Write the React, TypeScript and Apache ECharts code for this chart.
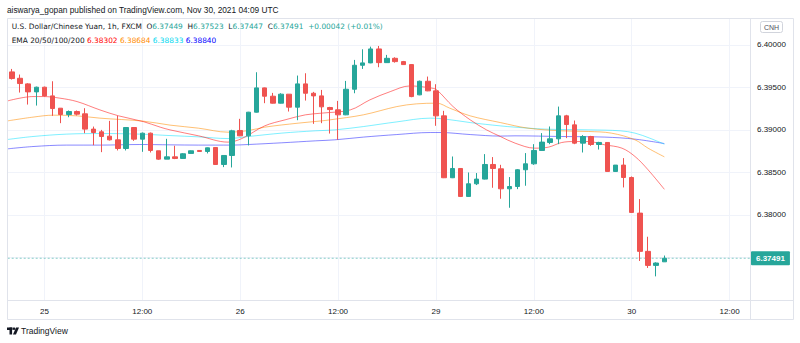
import React, { useEffect, useRef } from 'react';
import * as echarts from 'echarts';

// Hour categories (Nov 24 20:00 ... Nov 30 14:00)
const dayRanges: [string, number, number][] = [
  ['24', 20, 23],
  ['25', 0, 23],
  ['26', 0, 23],
  ['29', 0, 23],
  ['30', 0, 14],
];
const categories: string[] = [];
dayRanges.forEach(([d, a, b]) => {
  for (let h = a; h <= b; h++) categories.push(`${d} ${String(h).padStart(2, '0')}:00`);
});

const opens = [
  6.39683, 6.39608, 6.39542, 6.39448, 6.39503, 6.39401, 6.39256, 6.39182, 6.39217, 6.3919,
  6.3901, 6.38978, 6.38927, 6.38884, 6.38782, 6.39029, 6.38892, 6.38962, 6.38755, 6.38657,
  6.38684, 6.38665, 6.38724, 6.38759, 6.38747, 6.38794, 6.38594, 6.387, 6.38994, 6.38931,
  6.39209, 6.39495, 6.39397, 6.39315, 6.39421, 6.39268, 6.39542, 6.39432, 6.39401, 6.39264,
  6.39237, 6.39178, 6.39479, 6.39761, 6.39789, 6.39953, 6.39792, 6.39843, 6.39804, 6.39769,
  6.39413, 6.39573, 6.3946, 6.39166, 6.38438, 6.38547, 6.38218, 6.38367, 6.38422, 6.38594,
  6.38543, 6.38308, 6.38335, 6.38532, 6.38602, 6.38759, 6.38853, 6.38896, 6.39166, 6.3906,
  6.38845, 6.38923, 6.38829, 6.38853, 6.38512, 6.38587, 6.38441, 6.38022, 6.37572, 6.37407, 6.37449,
];
const highs = [
  6.39718, 6.39652, 6.3955, 6.3951, 6.3951, 6.39573, 6.39256, 6.39229, 6.39229, 6.39256,
  6.3904, 6.39001, 6.39107, 6.39166, 6.39033, 6.39033, 6.3897, 6.3897, 6.38755, 6.38896,
  6.38814, 6.38727, 6.38759, 6.38763, 6.38794, 6.38794, 6.387, 6.39002, 6.39131, 6.39213,
  6.39679, 6.39499, 6.39436, 6.39432, 6.39421, 6.3964, 6.39667, 6.39448, 6.39471, 6.39272,
  6.39342, 6.39577, 6.39824, 6.39949, 6.3998, 6.39988, 6.39883, 6.39855, 6.39812, 6.39773,
  6.39581, 6.39628, 6.39538, 6.39225, 6.38688, 6.38551, 6.385, 6.38493, 6.38716, 6.38681,
  6.3859, 6.38446, 6.3854, 6.38728, 6.38833, 6.38963, 6.39041, 6.39275, 6.39178, 6.39111,
  6.38939, 6.38931, 6.38861, 6.38853, 6.38587, 6.38669, 6.38453, 6.38187, 6.37744, 6.37443, 6.37523,
];
const lows = [
  6.39593, 6.3944, 6.39299, 6.39287, 6.39393, 6.39166, 6.3908, 6.3915, 6.3917, 6.38962,
  6.38821, 6.38739, 6.38876, 6.38759, 6.38759, 6.38872, 6.38743, 6.38735, 6.38649, 6.38657,
  6.38657, 6.38661, 6.3872, 6.38743, 6.38724, 6.3859, 6.38563, 6.38559, 6.38927, 6.38818,
  6.39205, 6.39315, 6.39311, 6.39311, 6.39217, 6.39115, 6.39346, 6.39072, 6.3908, 6.38958,
  6.38884, 6.39174, 6.39432, 6.39718, 6.39785, 6.39738, 6.39789, 6.39792, 6.39765, 6.39385,
  6.39409, 6.39456, 6.39049, 6.38434, 6.38434, 6.38211, 6.38214, 6.38352, 6.38418, 6.3832,
  6.38191, 6.38085, 6.38304, 6.38344, 6.3859, 6.38755, 6.38833, 6.38833, 6.38904, 6.38833,
  6.38735, 6.38813, 6.3877, 6.38512, 6.38508, 6.38324, 6.38026, 6.37459, 6.37377, 6.37278, 6.37447,
];
const closes = [
  6.39605, 6.39546, 6.39448, 6.39503, 6.39401, 6.39252, 6.39182, 6.39217, 6.39186, 6.3901,
  6.3897, 6.38923, 6.38884, 6.38782, 6.39029, 6.38892, 6.38962, 6.38759, 6.38657, 6.38684,
  6.38665, 6.3872, 6.38755, 6.38747, 6.3879, 6.38594, 6.387, 6.3899, 6.38931, 6.39209,
  6.39495, 6.39397, 6.39315, 6.39421, 6.39268, 6.39542, 6.39432, 6.39401, 6.39272, 6.3924,
  6.39178, 6.39479, 6.39761, 6.39789, 6.39953, 6.39792, 6.39843, 6.39804, 6.39769, 6.39393,
  6.39573, 6.3946, 6.39166, 6.38438, 6.38547, 6.38218, 6.38367, 6.38422, 6.38594, 6.38547,
  6.38308, 6.38335, 6.38532, 6.38602, 6.38759, 6.38857, 6.38896, 6.39166, 6.39064, 6.38845,
  6.38923, 6.38829, 6.38853, 6.38512, 6.38587, 6.38441, 6.3803, 6.37572, 6.37407, 6.37435, 6.37491,
];

// EMA lines: [bar position, value]
const ema20: [number, number][] = [
  [-0.5, 6.39342], [2.6, 6.39393], [3.9, 6.39393], [5.9, 6.39374], [8.0, 6.39334], [10.8, 6.39236],
  [13.1, 6.39166], [16.1, 6.39099], [18.2, 6.39033], [19.4, 6.39001], [22.9, 6.38931], [26.5, 6.38857],
  [28.2, 6.38899], [31.0, 6.39048], [33.5, 6.39119], [36.0, 6.39178], [38.0, 6.39198], [41.5, 6.39236],
  [43.9, 6.39354], [46.4, 6.39451], [48.8, 6.39518], [51.3, 6.39495], [52.1, 6.39471], [54.1, 6.39275],
  [56.2, 6.39119], [58.2, 6.39001], [59.9, 6.38923], [61.7, 6.38845], [64.1, 6.38786], [65.8, 6.38798],
  [67.4, 6.38852], [69.0, 6.38864], [70.7, 6.38864], [72.7, 6.38825], [74.8, 6.38786], [76.4, 6.38688],
  [78.0, 6.38532], [80.0, 6.38302],
];
const ema50: [number, number][] = [
  [-0.5, 6.39107], [2.6, 6.39151], [5.1, 6.39174], [8.0, 6.39166], [10.8, 6.39139], [16.1, 6.39104],
  [19.4, 6.39057], [22.9, 6.39021], [26.5, 6.38974], [29.0, 6.38993], [31.0, 6.39033], [35.1, 6.3908],
  [38.0, 6.39107], [39.0, 6.39119], [43.1, 6.39178], [47.2, 6.39275], [49.6, 6.39307], [52.1, 6.39315],
  [53.7, 6.39256], [56.2, 6.39166], [59.9, 6.39087], [63.3, 6.39021], [67.4, 6.3899], [70.7, 6.38982],
  [73.5, 6.38963], [76.4, 6.38884], [78.0, 6.38786], [80.0, 6.38684],
];
const ema100: [number, number][] = [
  [-0.5, 6.38888], [2.6, 6.38923], [6.7, 6.38951], [10.8, 6.38958], [15.7, 6.38951], [19.4, 6.38934],
  [22.9, 6.38919], [26.5, 6.38899], [29.0, 6.38923], [33.1, 6.38963], [37.2, 6.3899], [39.6, 6.39001],
  [43.1, 6.3904], [47.2, 6.39095], [51.3, 6.39139], [52.9, 6.39131], [56.2, 6.39087], [59.9, 6.39048],
  [61.7, 6.39033], [65.4, 6.3901], [70.9, 6.39001], [74.6, 6.3899], [76.4, 6.38963], [78.2, 6.38904],
  [80.0, 6.38833],
];
const ema200: [number, number][] = [
  [-0.5, 6.38778], [2.6, 6.38805], [6.7, 6.38822], [10.8, 6.38822], [15.7, 6.38829], [19.4, 6.38825],
  [22.9, 6.38822], [27.0, 6.38822], [29.0, 6.38829], [33.1, 6.38849], [37.2, 6.38872], [39.6, 6.38884],
  [43.1, 6.38916], [47.2, 6.38946], [51.3, 6.3897], [52.5, 6.3897], [56.2, 6.38946], [59.9, 6.38928],
  [61.7, 6.38931], [67.4, 6.38923], [72.7, 6.38916], [76.4, 6.38892], [80.0, 6.3884],
];

const lastPrice = 6.37491;
const FONT = 'Liberation Sans, Arial, sans-serif';
const LFONT = 'DejaVu Sans, Verdana, sans-serif';
const TXT = '#131722';
const UP = '#26a69a';
const DOWN = '#ef5350';

export default function App() {
  const ref = useRef<HTMLDivElement>(null);
  useEffect(() => {
    if (!ref.current) return;
    const chart = echarts.init(ref.current, undefined, { renderer: 'svg' });
    const candleData = opens.map((o, i) => [o, closes[i], lows[i], highs[i]]);
    const isMajor = (_i: number, v: string) => v.endsWith(' 00:00') || v.endsWith(' 12:00');
    const lineSeries = (name: string, data: [number, number][], color: string) => ({
      name,
      type: 'line',
      xAxisIndex: 1,
      data,
      showSymbol: false,
      smooth: 0.35,
      silent: true,
      lineStyle: { width: 1, color },
      z: 3,
    });
    const text = (x: number, y: number, t: string, fill: string, size = 8) => ({
      type: 'text',
      x,
      y,
      style: { text: t, fill, font: `${size}px ${FONT}`, verticalAlign: 'middle' },
      z: 100,
    });
    const LS = 7.4;
    const rs = (fill: string) => ({ fill, fontSize: LS, fontFamily: LFONT });
    const richLine = (x: number, y: number, t: string) => ({
      type: 'text',
      x,
      y,
      style: {
        text: t,
        fontSize: LS,
        fontFamily: LFONT,
        verticalAlign: 'middle',
        rich: { d: rs(TXT), g: rs(UP), r: rs('#ff0000'), o: rs('#ff8c00'), c: rs('#00d8f0'), b: rs('#0000ff') },
      },
      z: 100,
    });
    chart.setOption({
      animation: false,
      backgroundColor: '#ffffff',
      grid: { left: 7.7, right: 50, top: 18, bottom: 43, containLabel: false },
      xAxis: [
        {
          type: 'category',
          data: categories,
          boundaryGap: true,
          axisLine: { show: false },
          axisTick: { show: false },
          axisLabel: {
            interval: isMajor,
            formatter: (v: string) => (v.endsWith(' 00:00') ? v.split(' ')[0] : '12:00'),
            color: TXT,
            fontSize: 8,
            fontFamily: FONT,
            margin: 7,
          },
          splitLine: { show: true, interval: isMajor, alignWithLabel: true, lineStyle: { color: '#f0f3fa', width: 1 } },
        },
        { type: 'value', min: -0.5, max: categories.length - 0.5, show: false },
      ],
      yAxis: {
        type: 'value',
        position: 'right',
        min: 6.37,
        max: 6.40317,
        interval: 0.005,
        axisLine: { show: false },
        axisTick: { show: false },
        axisLabel: {
          formatter: (v: number) => v.toFixed(5),
          showMinLabel: false,
          showMaxLabel: false,
          color: TXT,
          fontSize: 8,
          fontFamily: FONT,
          margin: 7,
        },
        splitLine: { lineStyle: { color: '#f0f3fa', width: 1 } },
      },
      series: [
        {
          name: 'Last',
          type: 'line',
          xAxisIndex: 1,
          data: [[-0.5, lastPrice], [categories.length - 0.5, lastPrice]],
          showSymbol: false,
          silent: true,
          z: 2,
          lineStyle: { color: 'rgba(38,166,154,0.55)', type: [2, 2], width: 1 },
          endLabel: {
            show: true,
            distance: 1,
            formatter: () => lastPrice.toFixed(5),
            backgroundColor: UP,
            color: '#ffffff',
            fontSize: 8,
            fontFamily: FONT,
            fontWeight: 'bold',
            padding: [3, 5, 3, 5],
            borderRadius: 1,
          },
        },
        lineSeries('EMA200', ema200, 'rgba(40,40,255,0.55)'),
        lineSeries('EMA100', ema100, 'rgba(0,225,255,0.5)'),
        lineSeries('EMA50', ema50, 'rgba(255,140,0,0.55)'),
        lineSeries('EMA20', ema20, 'rgba(255,20,20,0.55)'),
        {
          type: 'candlestick',
          data: candleData,
          barWidth: 5,
          z: 4,
          itemStyle: { color: UP, color0: DOWN, borderColor: UP, borderColor0: DOWN, borderWidth: 1 },
        },
      ],
      graphic: [
        { type: 'rect', shape: { x: 7.5, y: 18.5, width: 786, height: 301 }, style: { fill: 'none', stroke: '#e0e3eb', lineWidth: 1 }, z: 90, silent: true },
        { type: 'line', shape: { x1: 750.5, y1: 18.5, x2: 750.5, y2: 319.5 }, style: { stroke: '#e0e3eb', lineWidth: 1 }, z: 90 },
        { type: 'line', shape: { x1: 7.5, y1: 300.5, x2: 793.5, y2: 300.5 }, style: { stroke: '#e0e3eb', lineWidth: 1 }, z: 90 },
        text(7, 10, 'aiswarya_gopan published on TradingView.com, Nov 30, 2021 04:09 UTC', TXT, 8.3),
        richLine(11.7, 26.7,
          '{d|U.S. Dollar/Chinese Yuan, 1h, FXCM  O}{g|6.37449}  {d|H}{g|6.37523}  {d|L}{g|6.37447}  {d|C}{g|6.37491}  {g|+0.00042 (+0.01%)}'),
        richLine(11.7, 40, '{d|EMA 20/50/100/200} {r|6.38302} {o|6.38684} {c|6.38833} {b|6.38840}'),
        { type: 'rect', shape: { x: 760.5, y: 21.5, width: 22, height: 11, r: 2 }, style: { fill: '#ffffff', stroke: '#d1d4dc', lineWidth: 1 }, z: 95 },
        { type: 'text', x: 771.5, y: 27.2, style: { text: 'CNH', fill: '#50535e', font: `7px ${FONT}`, align: 'center', verticalAlign: 'middle' }, z: 100 },
        // TradingView logo
        { type: 'rect', shape: { x: 7, y: 327.5, width: 5.5, height: 2.5 }, style: { fill: TXT }, z: 100 },
        { type: 'rect', shape: { x: 9.5, y: 327.5, width: 2.6, height: 7 }, style: { fill: TXT }, z: 100 },
        { type: 'circle', shape: { cx: 14, cy: 328.7, r: 1.3 }, style: { fill: TXT }, z: 100 },
        { type: 'polygon', shape: { points: [[16, 327.5], [19, 327.5], [16, 334.5], [13, 334.5]] }, style: { fill: TXT }, z: 100 },
        text(21, 331.2, 'TradingView', TXT, 8.5),
      ],
    });
    return () => chart.dispose();
  }, []);
  return <div ref={ref} style={{ position: 'fixed', left: 0, top: 0, width: 800, height: 343 }} />;
}
